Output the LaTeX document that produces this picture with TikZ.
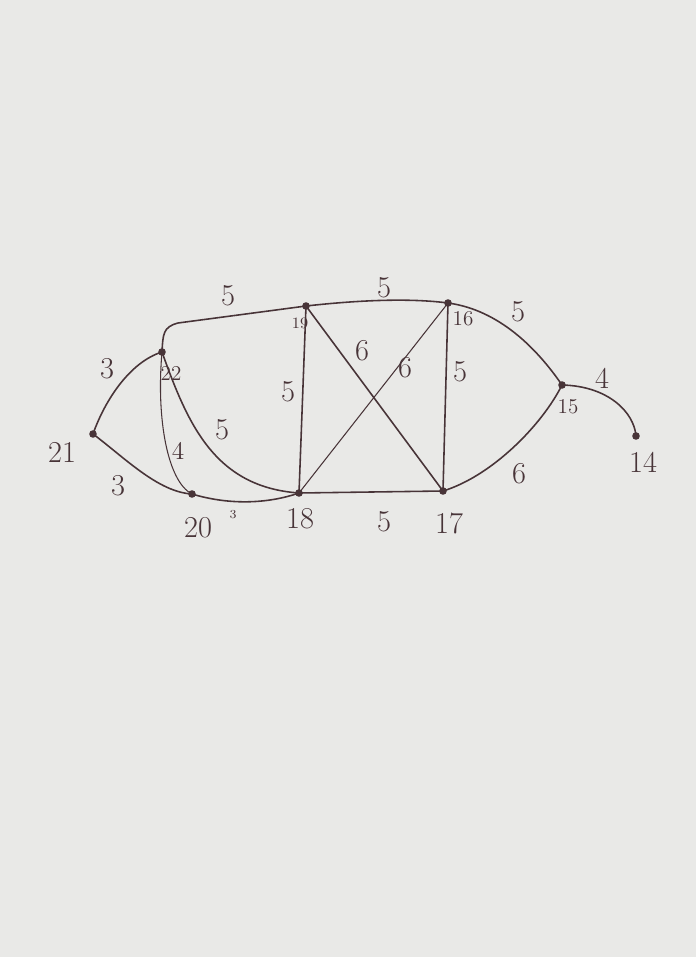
\documentclass[tikz,border=0pt]{standalone}
\usepackage{xcolor}
\definecolor{paper}{RGB}{233,233,231}
\definecolor{ink}{RGB}{72,52,56}
\begin{document}
\begin{tikzpicture}[x=0.02cm, y=-0.02cm]
				\tikzset{every node/.style={text=ink, font=\LARGE}}
				\tikzset{edge/.style={ink, line width=0.9pt}, thin edge/.style={ink, line width=0.6pt}}
				% --- 1. Paper ---
				\fill[paper] (0,0) rectangle (696,957);
				\useasboundingbox (0,0) rectangle (696,957);
				% --- 2. Vertices ---
				\coordinate (n21) at (93,434);
				\coordinate (n22) at (162,352);
				\coordinate (n20) at (192,494);
				\coordinate (n18) at (299,493);
				\coordinate (n19) at (306,306);
				\coordinate (n16) at (448,303);
				\coordinate (n17) at (443,491);
				\coordinate (n15) at (562,385);
				\coordinate (n14) at (636,436);
				% --- 3. Edges ---
				\draw[edge] (n21) .. controls (105,400) and (130,362) .. (n22); % 21-22
				\draw[edge] (n21) .. controls (125,458) and (158,492) .. (n20); % 21-20
				\draw[edge] (n22) .. controls (163,334) and (163,327) .. (178,323) -- (n19); % 22-19
				\draw[thin edge] (n22) .. controls (156,420) and (168,482) .. (n20); % 22-20
				\draw[edge] (n22) .. controls (188,425) and (215,487) .. (n18); % 22-18
				\draw[edge] (n20) .. controls (232,506) and (270,503) .. (n18); % 20-18
				\draw[edge] (n19) -- (n18);
				\draw[edge] (n19) .. controls (360,300) and (410,298) .. (n16);
				\draw[edge] (n19) -- (n17);
				\draw[thin edge] (n18) -- (n16);
				\draw[edge] (n16) -- (n17);
				\draw[edge] (n18) -- (n17);
				\draw[edge] (n16) .. controls (500,310) and (538,350) .. (n15); % 16-15
				\draw[edge] (n17) .. controls (492,476) and (542,425) .. (n15); % 17-15
				\draw[edge] (n15) .. controls (608,386) and (634,412) .. (n14); % 15-14
				% --- 4. Weights ---
				\node (w2122) at (107,369) {3};
				\node (w2120) at (118,486) {3};
				\node (w2219) at (228,296) {5};
				\node[font=\Large] (w2220) at (178,451) {4};
				\node (w2218) at (222,430) {5};
				\node[font=\scriptsize] (w2018) at (233,515) {3};
				\node (w1918) at (288,392) {5};
				\node (w1916) at (384,288) {5};
				\node (w1917) at (362,351) {6};
				\node (w1816) at (405,368) {6};
				\node (w1617) at (460,372) {5};
				\node (w1817) at (384,522) {5};
				\node (w1615) at (518,312) {5};
				\node (w1715) at (519,474) {6};
				\node (w1514) at (602,378) {4};
				% --- 5. Points and labels ---
				\foreach \v in {21,22,20,18,19,16,17,15,14}
					\fill[ink] (n\v) circle (3.8);
				\node (l21) at (62,452) {21};
				\node[font=\large] (l22) at (171,373) {22};
				\node (l20) at (198,528) {20};
				\node (l18) at (300,519) {18};
				\node[font=\small] (l19) at (300,323) {19};
				\node[font=\large] (l16) at (463,319) {16};
				\node (l17) at (449,523) {17};
				\node[font=\large] (l15) at (568,407) {15};
				\node (l14) at (643,462) {14};
			\end{tikzpicture}
\end{document}
